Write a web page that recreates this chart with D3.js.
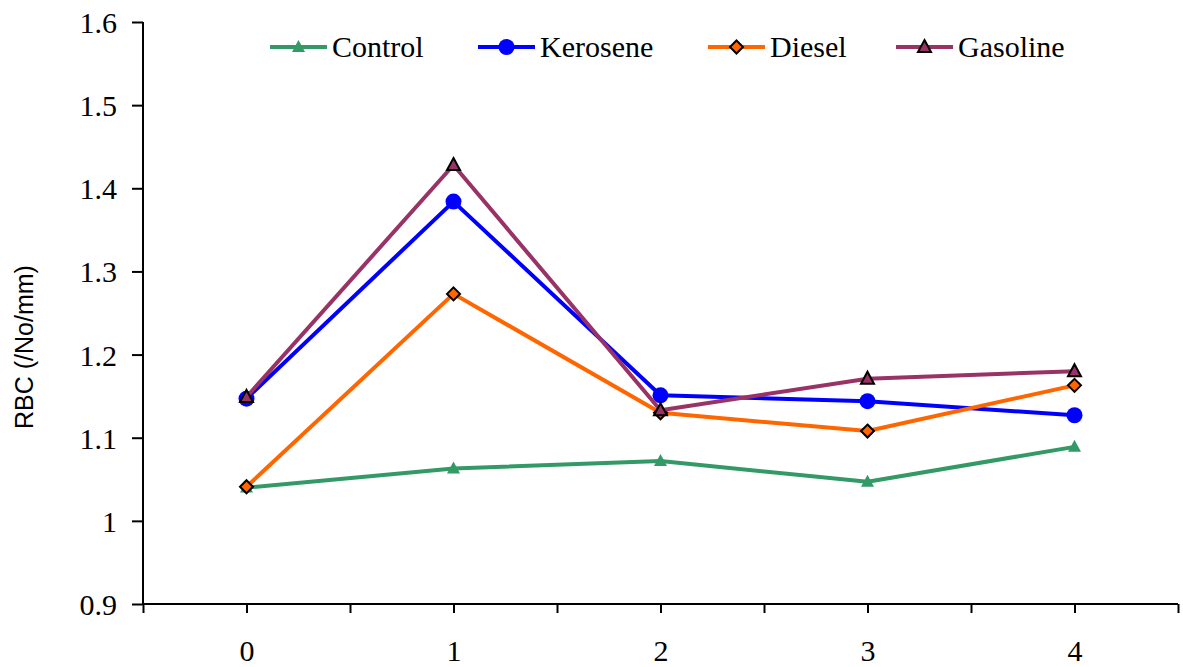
<!DOCTYPE html>
<html><head><meta charset="utf-8">
<script src="https://cdn.jsdelivr.net/npm/d3@7"></script>
<style>
html,body{margin:0;padding:0;background:#fff;}svg{display:block;}
.serif{font-family:"Liberation Serif","Times New Roman","DejaVu Serif",serif;}
.sans{font-family:"Liberation Sans",Arial,sans-serif;}
</style>
</head><body>
<svg id="c" width="1183" height="667"></svg>
<script>
const categories = [0, 1, 2, 3, 4];
const control  = [1.040, 1.063, 1.072, 1.047, 1.089];
const kerosene = [1.147, 1.384, 1.151, 1.144, 1.127];
const diesel   = [1.041, 1.273, 1.130, 1.108, 1.163];
const gasoline = [1.149, 1.428, 1.133, 1.171, 1.180];
const seriesNames = ["Control", "Kerosene", "Diesel", "Gasoline"];
const yTicks = [0.9, 1.0, 1.1, 1.2, 1.3, 1.4, 1.5, 1.6];
const yTickLabels = ["0.9", "1", "1.1", "1.2", "1.3", "1.4", "1.5", "1.6"];
const yTitle = "RBC (/No/mm)";

const series = [
  {name: seriesNames[0], values: control,  color: "#339966", marker: "tri",  stroke: null},
  {name: seriesNames[1], values: kerosene, color: "#0000FF", marker: "circ", stroke: null},
  {name: seriesNames[2], values: diesel,   color: "#FF6600", marker: "dia",  stroke: "#000"},
  {name: seriesNames[3], values: gasoline, color: "#993366", marker: "tri",  stroke: "#000"}
];

const svg = d3.select("#c");
const x = d3.scaleLinear().domain([-0.5, 4.5]).range([143, 1178]);
const y = d3.scaleLinear().domain([0.9, 1.6]).range([604, 22]);

// Y axis
const yAxis = d3.axisLeft(y).tickValues(yTicks).tickSize(11)
  .tickFormat((d, i) => yTickLabels[i]);
const gy = svg.append("g").attr("transform", "translate(143,0)").call(yAxis)
  .attr("font-family", null).attr("font-size", null);
gy.select(".domain").attr("stroke", "#000").attr("stroke-width", 2).attr("d", "M0,22V604");
gy.selectAll(".tick line").attr("stroke", "#000").attr("stroke-width", 2);
gy.selectAll(".tick text").attr("class", "serif").style("font-size", "30px")
  .attr("fill", "#000").attr("x", -26).attr("dy", "0.35em");

// X axis
const xTickVals = d3.range(-0.5, 4.51, 0.5);
const xAxis = d3.axisBottom(x).tickValues(xTickVals).tickSize(9)
  .tickFormat(d => Number.isInteger(d) ? String(d) : "");
const gx = svg.append("g").attr("transform", "translate(0,604)").call(xAxis)
  .attr("font-family", null).attr("font-size", null);
gx.select(".domain").attr("stroke", "#000").attr("stroke-width", 2).attr("d", "M143,0H1178");
gx.selectAll(".tick line").attr("stroke", "#000").attr("stroke-width", 2);
gx.selectAll(".tick text").attr("class", "serif").style("font-size", "30px")
  .attr("fill", "#000").attr("y", 57).attr("dy", 0);

// Y title
svg.append("text").attr("transform", "translate(33,347) rotate(-90)")
  .attr("text-anchor", "middle").attr("class", "sans")
  .style("font-size", "25px").attr("fill", "#000").text(yTitle);

function markerPath(type) {
  if (type === "tri") return "M0,-7L6.5,5L-6.5,5Z";
  if (type === "dia") return "M0,-6.5L6.5,0L0,6.5L-6.5,0Z";
  return null;
}
function drawMarker(g, s, cx, cy) {
  if (s.marker === "circ") {
    g.append("circle").attr("cx", cx).attr("cy", cy).attr("r", 8).attr("fill", s.color);
  } else {
    const p = g.append("path").attr("d", markerPath(s.marker))
      .attr("transform", `translate(${cx},${cy})`).attr("fill", s.color);
    if (s.stroke) p.attr("stroke", s.stroke).attr("stroke-width", 2).attr("stroke-linejoin", "miter");
  }
}

const line = d3.line().x((d, i) => x(categories[i])).y(d => y(d));
series.forEach(s => {
  const g = svg.append("g");
  g.append("path").datum(s.values).attr("d", line).attr("fill", "none")
    .attr("stroke", s.color).attr("stroke-width", 4).attr("stroke-linejoin", "round");
  s.values.forEach((v, i) => drawMarker(g, s, x(categories[i]), y(v)));
});

// Legend
const legendX = [270, 478, 708, 896];
const legendY = 47;
series.forEach((s, i) => {
  const g = svg.append("g");
  g.append("line").attr("x1", legendX[i]).attr("x2", legendX[i] + 57)
    .attr("y1", legendY).attr("y2", legendY).attr("stroke", s.color).attr("stroke-width", 4);
  drawMarker(g, s, legendX[i] + 28.5, legendY);
  g.append("text").attr("x", legendX[i] + 62).attr("y", legendY + 10)
    .attr("class", "serif").style("font-size", "30px").attr("fill", "#000").text(s.name);
});
</script>
</body></html>
